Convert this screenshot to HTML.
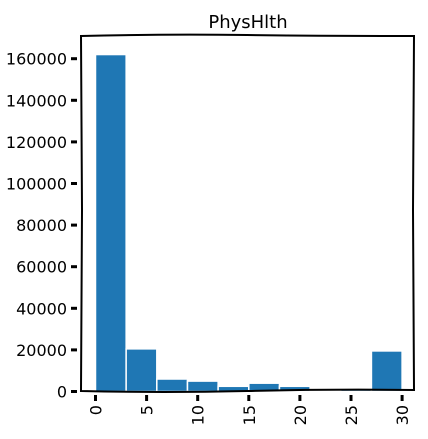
<!DOCTYPE html>
<html><head><meta charset="utf-8"><style>
html,body{margin:0;padding:0;background:#fff;width:428px;height:439px;overflow:hidden}
text{font-family:"DejaVu Sans","Liberation Sans",sans-serif;fill:#000}
</style></head><body>
<svg id="chart" width="428" height="439" viewBox="0 0 428 439" xmlns="http://www.w3.org/2000/svg">
<text x="248" y="28" font-size="18" text-anchor="middle">PhysHlth</text>
<g id="bars"></g>
<path d="M81,36 Q160,34 247,35 T414,36 L413,210 L414,390 Q330,389 247,391 T81,391 L82,210 Z" fill="none" stroke="#000" stroke-width="2"/>
<g id="ticks"></g>
</svg>
<script>
const binEdges=[0,3,6,9,12,15,18,21,24,27,30];
const counts=[162000,20500,6000,5000,2500,4000,2500,0,1000,19500];
const xTicks=[0,5,10,15,20,25,30];
const yTicks=[0,20000,40000,60000,80000,100000,120000,140000,160000];
const NS='http://www.w3.org/2000/svg';
function xs(v){return 95.5+v*10.22;}
function ys(v){return 391.5-v*41.6/20000;}
const bars=document.getElementById('bars');
counts.forEach((c,i)=>{
  if(c<=0)return;
  const x0=xs(binEdges[i]),x1=xs(binEdges[i+1]);
  const r=document.createElementNS(NS,'rect');
  r.setAttribute('x',x0);r.setAttribute('y',ys(c));
  r.setAttribute('width',x1-x0);r.setAttribute('height',ys(0)-ys(c));
  r.setAttribute('fill','#1f77b4');r.setAttribute('stroke','#fff');r.setAttribute('stroke-width','1.5');
  
  
  bars.appendChild(r);
});
const ticks=document.getElementById('ticks');
xTicks.forEach(v=>{
  const x=xs(v);
  const l=document.createElementNS(NS,'line');
  l.setAttribute('x1',x);l.setAttribute('x2',x);l.setAttribute('y1',395);l.setAttribute('y2',401);
  l.setAttribute('stroke','#000');l.setAttribute('stroke-width','3');
  
  
  ticks.appendChild(l);
  const t=document.createElementNS(NS,'text');
  t.setAttribute('transform','translate('+(x+6)+',405) rotate(-90)');
  t.setAttribute('text-anchor','end');t.setAttribute('font-size','16');
  t.textContent=v;
  
  
  ticks.appendChild(t);
});
yTicks.forEach(v=>{
  const y=ys(v);
  const l=document.createElementNS(NS,'line');
  l.setAttribute('x1',71);l.setAttribute('x2',77);l.setAttribute('y1',y);l.setAttribute('y2',y);
  l.setAttribute('stroke','#000');l.setAttribute('stroke-width','3');
  
  
  ticks.appendChild(l);
  const t=document.createElementNS(NS,'text');
  t.setAttribute('x',67);t.setAttribute('y',y+6);
  t.setAttribute('text-anchor','end');t.setAttribute('font-size','16');
  t.textContent=v;
  
  
  ticks.appendChild(t);
});
</script>
</body></html>
